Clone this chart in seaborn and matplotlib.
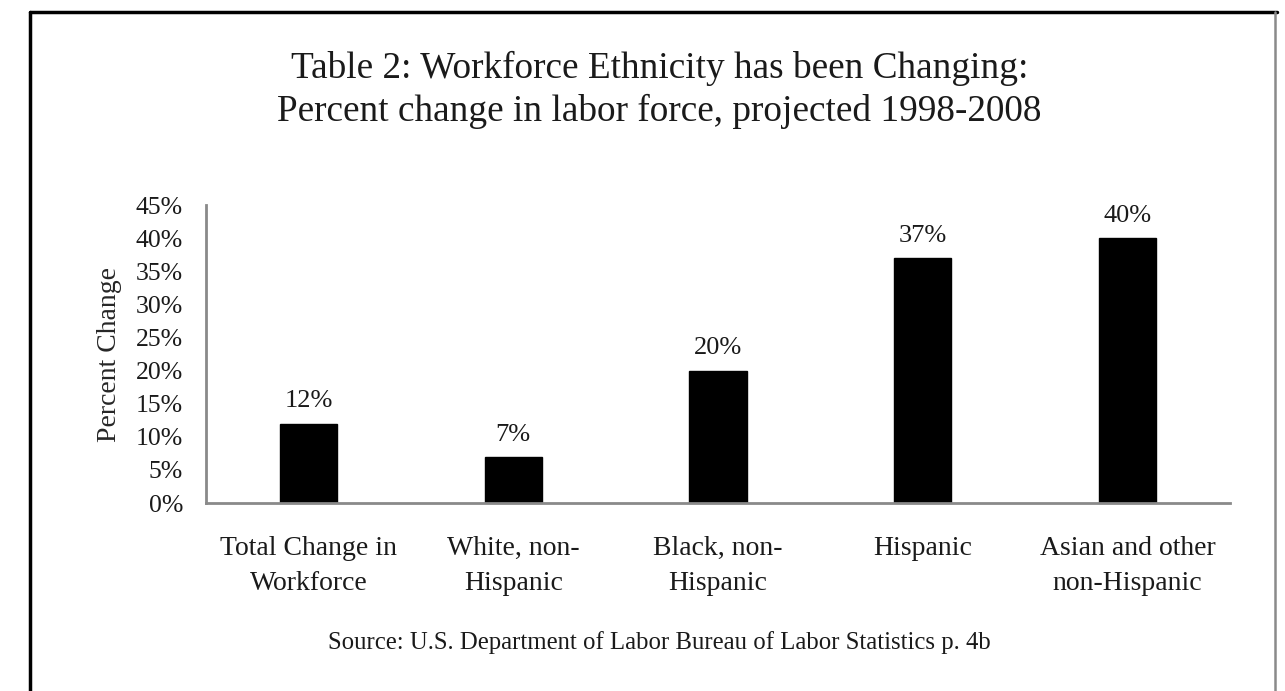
import matplotlib
matplotlib.use("Agg")
import matplotlib.pyplot as plt
from matplotlib.lines import Line2D
from matplotlib.ticker import PercentFormatter, MultipleLocator
import seaborn as sns
import pandas as pd

categories = ["Total Change in\nWorkforce", "White, non-\nHispanic", "Black, non-\nHispanic",
              "Hispanic", "Asian and other\nnon-Hispanic"]
percent_change = [12, 7, 20, 37, 40]
bar_labels = ["12%", "7%", "20%", "37%", "40%"]

title_text = "Table 2: Workforce Ethnicity has been Changing:\nPercent change in labor force, projected 1998-2008"
source_text = "Source: U.S. Department of Labor Bureau of Labor Statistics p. 4b"

sns.set_theme(style="white")
plt.rcParams["font.family"] = ["Liberation Serif", "DejaVu Serif"]
plt.rcParams["text.color"] = "#1a1a1a"

df = pd.DataFrame({"group": categories, "pct": percent_change})

fig = plt.figure(figsize=(12.85, 6.91), dpi=100, facecolor="white")
ax = fig.add_axes([206 / 1285, 1 - 503 / 691, (1230 - 206) / 1285, (503 - 205) / 691])

sns.barplot(data=df, x="group", y="pct", color="black", width=0.28,
            saturation=1, ax=ax, edgecolor="black")

ax.set_ylim(0, 45)
ax.set_xlim(-0.5, 4.5)
ax.yaxis.set_major_locator(MultipleLocator(5))
ax.yaxis.set_major_formatter(PercentFormatter(decimals=0))

for i, (v, lab) in enumerate(zip(percent_change, bar_labels)):
    ax.annotate(lab, (i, v), xytext=(0, 8), textcoords="offset points",
                ha="center", va="bottom", fontsize=19, color="#1a1a1a")

for side in ["top", "right"]:
    ax.spines[side].set_visible(False)
for side in ["left", "bottom"]:
    ax.spines[side].set_color("#8a8a8a")
    ax.spines[side].set_linewidth(2)

ax.tick_params(axis="both", length=0, colors="#1a1a1a")
ax.tick_params(axis="y", labelsize=18.5, pad=16.5)
ax.tick_params(axis="x", labelsize=20, pad=24)
for t in ax.get_xticklabels():
    t.set_linespacing(1.5)

ax.set_xlabel("")
ax.set_ylabel("Percent Change", fontsize=20, labelpad=10)

fig.text(0.513, 1 - 90 / 691, title_text, ha="center", va="center",
         fontsize=26.8, linespacing=1.32)
fig.text(0.513, 1 - 643 / 691, source_text, ha="center", va="center", fontsize=17.8)

# outer frame
fig.add_artist(Line2D([30 / 1285, 30 / 1285], [0, 1 - 12 / 691], color="black", lw=2.5))
fig.add_artist(Line2D([30 / 1285, 1277 / 1285], [1 - 12 / 691, 1 - 12 / 691], color="black", lw=2.5))
fig.add_artist(Line2D([1275 / 1285, 1275 / 1285], [0, 1 - 12 / 691], color="#8a8a8a", lw=1.8))

fig.savefig("out.png", dpi=100, facecolor="white")
